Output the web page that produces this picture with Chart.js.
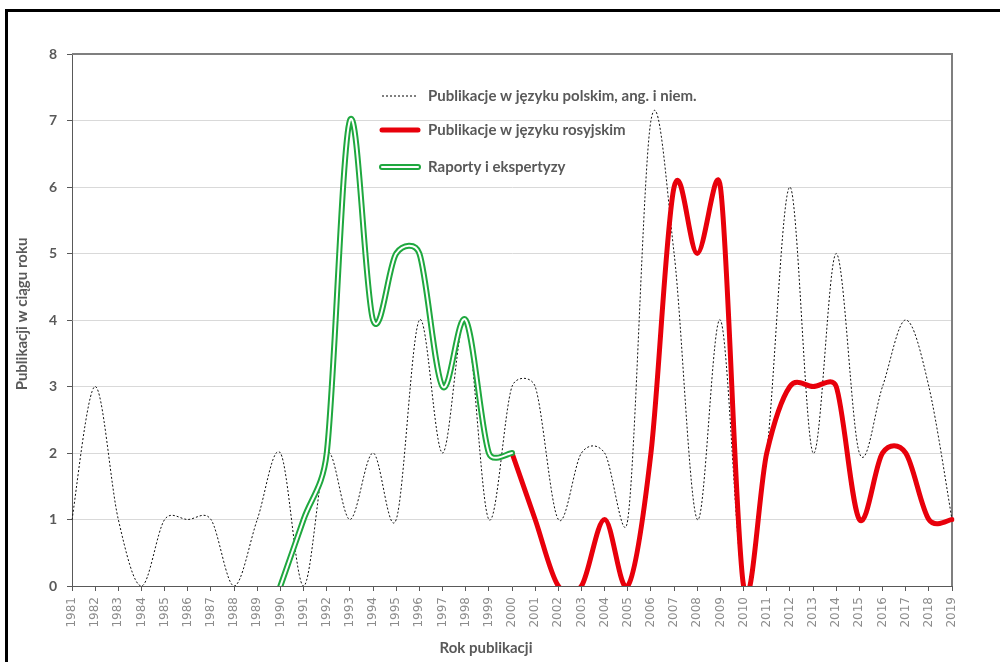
<!DOCTYPE html>
<html>
<head>
<meta charset="utf-8">
<script src="https://cdn.jsdelivr.net/npm/chart.js@4.4.0/dist/chart.umd.min.js"></script>
<style>
html, body { margin: 0; padding: 0; background: #fff; }
#ramka { position: absolute; left: 5px; top: 9px; width: 1100px; height: 800px; border: 3px solid #000; }
#kontener { position: absolute; left: 0; top: 0; width: 1000px; height: 662px; }
</style>
</head>
<body>
<div id="ramka"></div>
<div id="kontener"><canvas id="wykres"></canvas></div>
<script>
const lata = ['1981','1982','1983','1984','1985','1986','1987','1988','1989','1990',
              '1991','1992','1993','1994','1995','1996','1997','1998','1999','2000',
              '2001','2002','2003','2004','2005','2006','2007','2008','2009','2010',
              '2011','2012','2013','2014','2015','2016','2017','2018','2019']
const publikacjePolskie = [1,3,1,0,1,1,1,0,1,2,
                           0,2,1,2,1,4,2,4,1,3,
                           3,1,2,2,1,7,5,1,4,0,
                           2,6,2,5,2,3,4,3,1]
const publikacjeRosyjskie = [null,null,null,null,null,null,null,null,null,null,
                             null,null,null,null,null,null,null,null,null,2,
                             1,0,0,1,0,2,6,5,6,0,
                             2,3,3,3,1,2,2,1,1]
const raporty = [null,null,null,null,null,null,null,null,null,0,
                 1,2,7,4,5,5,3,4,2,2,
                 null,null,null,null,null,null,null,null,null,null,
                 null,null,null,null,null,null,null,null,null]
const ticksY = [0,1,2,3,4,5,6,7,8]
const nazwySerii = ['Publikacje w języku polskim, ang. i niem.', 'Publikacje w języku rosyjskim', 'Raporty i ekspertyzy']
const tytulX = 'Rok publikacji'
const tytulY = 'Publikacji w ciągu roku'

const szary = '#595959'
const zielony = '#1fa83f'
const czerwony = '#e8000b'
const fontPogrubiony = 'bold 15px Lato'

// wygladzanie jak w Excelu: Catmull-Rom (1/6), punkt kontrolny max pol odcinka
const wygladzanie = {
    id: 'wygladzanie',
    beforeDatasetDraw(chart, args){
        const meta = args.meta
        meta.dataset.updateControlPoints(chart.chartArea, 'x')
        const pkt = meta.data
        for(let i = 0; i < pkt.length; i++){
            const p = pkt[i]
            if(p.skip) continue
            const prev = (i > 0 && !pkt[i-1].skip) ? pkt[i-1] : p
            const next = (i < pkt.length-1 && !pkt[i+1].skip) ? pkt[i+1] : p
            const vx = (next.x - prev.x) / 6
            const vy = (next.y - prev.y) / 6
            const m = Math.hypot(vx, vy) || 1
            const d01 = Math.hypot(p.x - prev.x, p.y - prev.y)
            const d12 = Math.hypot(next.x - p.x, next.y - p.y)
            const s1 = Math.min(1, 0.5 * d01 / m)
            const s2 = Math.min(1, 0.5 * d12 / m)
            p.cp1x = p.x - vx * s1
            p.cp1y = p.y - vy * s1
            p.cp2x = p.x + vx * s2
            p.cp2y = p.y + vy * s2
        }
    }
}

// legenda w srodku wykresu + tytuly osi + ramka obszaru
const dodatki = {
    id: 'dodatki',
    beforeDatasetsDraw(chart){
        const {ctx, chartArea} = chart
        ctx.save()
        ctx.strokeStyle = '#7f7f7f'
        ctx.lineWidth = 2
        ctx.beginPath()
        ctx.moveTo(chartArea.left, chartArea.top)
        ctx.lineTo(chartArea.right, chartArea.top)
        ctx.lineTo(chartArea.right, chartArea.bottom)
        ctx.stroke()
        ctx.restore()
    },
    afterDraw(chart){
        const {ctx, chartArea} = chart
        ctx.save()
        ctx.font = fontPogrubiony
        ctx.fillStyle = szary
        ctx.textBaseline = 'middle'
        ctx.lineCap = 'round'
        const x0 = chartArea.left + 310
        const wiersze = [42, 76, 113]
        for(let i = 0; i < 3; i++){
            const y = chartArea.top + wiersze[i]
            ctx.beginPath()
            ctx.moveTo(x0, y)
            ctx.lineTo(x0 + 36, y)
            if(i == 0){
                ctx.strokeStyle = '#000'
                ctx.lineWidth = 1
                ctx.setLineDash([2,2])
                ctx.lineCap = 'butt'
                ctx.stroke()
                ctx.setLineDash([])
                ctx.lineCap = 'round'
            }
            else if(i == 1){
                ctx.strokeStyle = czerwony
                ctx.lineWidth = 5
                ctx.stroke()
            }
            else{
                ctx.strokeStyle = zielony
                ctx.lineWidth = 6
                ctx.stroke()
                ctx.strokeStyle = '#fff'
                ctx.lineWidth = 2
                ctx.stroke()
            }
            ctx.textAlign = 'left'
            ctx.fillText(nazwySerii[i], x0 + 46, y)
        }
        // tytuly osi
        ctx.textAlign = 'center'
        ctx.fillText(tytulX, 486, 648)
        ctx.translate(22, 314)
        ctx.rotate(-Math.PI / 2)
        ctx.fillText(tytulY, 0, 0)
        ctx.restore()
    }
}

const wspolne = {
    fill: false,
    tension: 0.4,
    capBezierPoints: false,
    pointRadius: 0,
    pointHoverRadius: 0,
    spanGaps: false,
    borderCapStyle: 'round',
    borderJoinStyle: 'round'
}

const wykres = new Chart(document.getElementById('wykres').getContext('2d'), {
    type: 'line',
    data: {
        labels: lata,
        datasets: [
            Object.assign({}, wspolne, {
                label: nazwySerii[0],
                data: publikacjePolskie,
                borderColor: '#111',
                borderWidth: 1,
                borderDash: [2,2],
                borderCapStyle: 'butt',
                order: 4
            }),
            Object.assign({}, wspolne, {
                label: nazwySerii[1],
                data: publikacjeRosyjskie,
                borderColor: czerwony,
                borderWidth: 5,
                order: 3
            }),
            Object.assign({}, wspolne, {
                label: nazwySerii[2],
                data: raporty,
                borderColor: zielony,
                borderWidth: 6,
                order: 2
            }),
            Object.assign({}, wspolne, {
                label: '',
                data: raporty,
                borderColor: '#fff',
                borderWidth: 2,
                order: 1
            })
        ]
    },
    plugins: [wygladzanie, dodatki],
    options: {
        responsive: true,
        maintainAspectRatio: false,
        animation: false,
        layout: { padding: { left: 0, top: 54, right: 48, bottom: 0 } },
        plugins: {
            legend: { display: false },
            tooltip: { enabled: false }
        },
        scales: {
            x: {
                offset: false,
                grid: { drawOnChartArea: false, drawTicks: true, tickLength: 5, color: szary },
                border: { color: szary, width: 1 },
                ticks: {
                    autoSkip: false, minRotation: 90, maxRotation: 90, padding: 6,
                    color: '#8c8c8c', font: { family: 'DejaVu Sans', size: 12 }
                },
                afterFit(skala){ skala.height = 76 }
            },
            y: {
                min: 0,
                max: 8,
                afterBuildTicks(skala){ skala.ticks = ticksY.map(v => ({value: v})) },
                grid: {
                    color: c => c.tick && c.tick.value == 8 ? '#7f7f7f' : '#d9d9d9',
                    lineWidth: 1,
                    tickLength: 5,
                    tickColor: szary
                },
                border: { color: szary, width: 1 },
                ticks: {
                    padding: 10, color: szary,
                    font: { family: 'Lato', size: 14, weight: 'bold' }
                },
                afterFit(skala){ skala.width = 72 }
            }
        }
    }
})
</script>
</body>
</html>
